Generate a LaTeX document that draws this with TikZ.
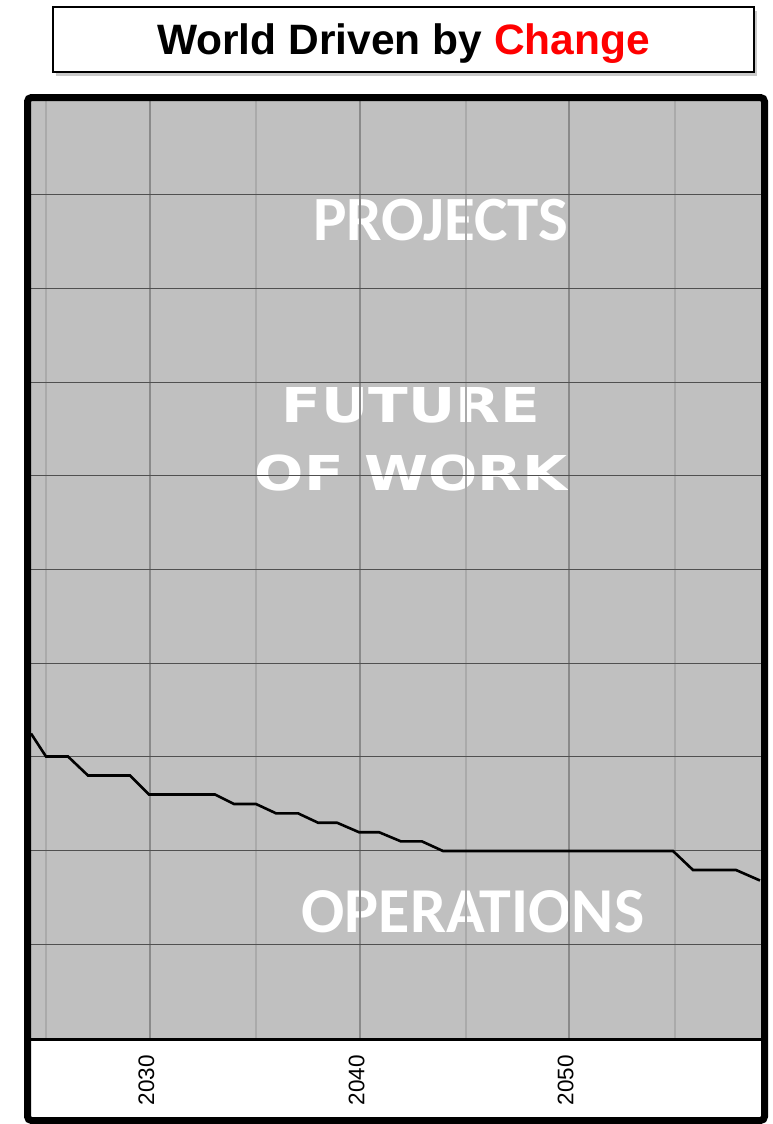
\documentclass[tikz,border=0pt]{standalone}
\usepackage{fontspec}
\setmainfont{Liberation Sans}
\newfontfamily\calibfont{Carlito}
\newfontfamily\widefont{DejaVu Sans}
\usetikzlibrary{shadows}
\definecolor{plotgray}{HTML}{C0C0C0}
\definecolor{majorgrid}{HTML}{8A8A8A}
\definecolor{minorgrid}{HTML}{AAAAAA}
\definecolor{hgrid}{HTML}{505050}
\definecolor{chred}{HTML}{FF0000}
\tikzset{
  titlebox/.style={draw=black, line width=1.3pt, fill=white, minimum width=701pt, minimum height=65pt, inner sep=0pt,
    drop shadow={shadow xshift=3pt, shadow yshift=-4pt, opacity=0.35, fill=black!60}},
  titletext/.style={inner sep=0pt, anchor=base, font=\bfseries\fontsize{42.5}{48}\selectfont},
  bigwhite/.style={text=white, inner sep=0pt, anchor=base},
  majorline/.style={draw=majorgrid, line width=2pt},
  minorline/.style={draw=minorgrid, line width=1.5pt},
  hline/.style={draw=hgrid, line width=1.1pt},
  stepline/.style={draw=black, line width=2.6pt, line join=miter},
  yearlabel/.style={rotate=90, inner sep=0pt, font=\fontsize{22.5}{24}\selectfont},
  frame/.style={draw=black, line width=7pt, rounded corners=4pt}
}
\begin{document}
\begin{tikzpicture}[x=1pt,y=-1pt]
\useasboundingbox (0,0) rectangle (773,1124);
% title
\node[titlebox] (title) at (403.5,39.5) {};
\node[titletext] (titlelabel) at (403.5,55) {World Driven by \textcolor{chred}{Change}};
% plot background
\fill[plotgray] (31,101) rectangle (761,1039);
\fill[white] (31,1039) rectangle (761,1118);
% big texts (under grid)
\node[bigwhite, font=\calibfont\bfseries\fontsize{63}{66}\selectfont] (projects) at (441,240) {PROJECTS};
\node[bigwhite, xscale=1.21, font=\widefont\bfseries\fontsize{48}{50}\selectfont] (future) at (411,422) {FUTURE};
\node[bigwhite, xscale=1.21, font=\widefont\bfseries\fontsize{48}{50}\selectfont] (ofwork) at (411,490.5) {OF WORK};
\node[bigwhite, font=\calibfont\bfseries\fontsize{64}{66}\selectfont] (operations) at (473,932) {OPERATIONS};
% vertical grid
\foreach \x in {46,256,466,675} \draw[minorline] (\x,101) -- (\x,1039);
\foreach \x in {150,360,569} \draw[majorline] (\x,101) -- (\x,1039);
% horizontal grid
\foreach \k in {1,...,9} \draw[hline] (31,{101+93.7*\k}) -- (761,{101+93.7*\k});
% step line
\draw[stepline] (31,733.5) -- (46,756.5) -- (68,756.5) -- (88,775.5) -- (130,775.5) -- (149,794.5)
  -- (215,794.5) -- (234,804) -- (256,804) -- (276,813.3) -- (298,813.3) -- (318,822.7)
  -- (337,822.7) -- (359,832.2) -- (379,832.2) -- (401,841.4) -- (422,841.4) -- (443,851)
  -- (673,851) -- (693,870) -- (736,870) -- (760,880.5);
% axis separator
\draw[black, line width=3pt] (31,1039) -- (761,1039);
% year labels
\node[yearlabel] (y2030) at (146.5,1080) {2030};
\node[yearlabel] (y2040) at (356.5,1080) {2040};
\node[yearlabel] (y2050) at (565.5,1080) {2050};
% frame
\draw[frame] (27.5,97.5) rectangle (764.5,1120.5);
\end{tikzpicture}
\end{document}
